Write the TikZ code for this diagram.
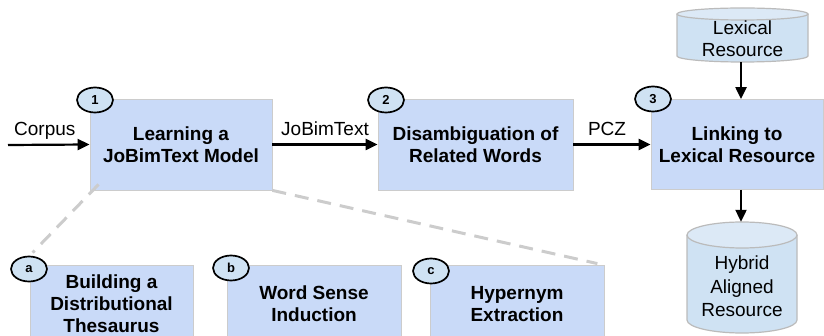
\documentclass[tikz,border=0pt]{standalone}
\usepackage{fontspec}
\setmainfont{Liberation Sans}
\usetikzlibrary{shapes.geometric,arrows.meta,calc}
\definecolor{boxblue}{HTML}{C9DAF8}
\definecolor{cylblue}{HTML}{CFE2F3}
\definecolor{cyltop}{HTML}{DCE9F6}
\definecolor{boxgray}{HTML}{CCCCCC}
\definecolor{cylgray}{HTML}{BBBBBB}
\definecolor{dashgray}{HTML}{CCCCCC}
\begin{document}
\begin{tikzpicture}[x=1pt,y=-1pt,
  stepbox/.style={draw=boxgray, line width=0.8pt, fill=boxblue, rectangle, inner sep=0pt, align=center, font=\fontsize{19}{22}\selectfont\bfseries},
  numcirc/.style={ellipse, draw=black, line width=1.7pt, fill=cylblue, minimum width=36pt, minimum height=25pt, inner sep=0pt, font=\fontsize{13}{13}\selectfont\bfseries},
  flow/.style={line width=2.2pt, -{Triangle[length=12pt,width=11pt]}},
  flowlabel/.style={anchor=base, yshift=9pt, inner sep=0pt, font=\fontsize{19}{22}\selectfont},
  subline/.style={draw=dashgray, line width=3pt, dash pattern=on 14pt off 9pt},
  cyltext/.style={inner sep=0pt, align=center},
  cylbody/.style={fill=cylblue, draw=cylgray, line width=1.2pt},
  cyllid/.style={fill=cyltop, draw=cylgray, line width=1.2pt}
]
\useasboundingbox (0,0) rectangle (824,336);
\clip (0,0) rectangle (824,336);

% cylinders
\fill[cylblue] (677,14) -- (677,56) arc[start angle=180, end angle=360, x radius=65.5pt, y radius=6pt] -- (808,14) -- cycle;
\draw[cylbody, fill=none] (677,14) -- (677,56) arc[start angle=180, end angle=360, x radius=65.5pt, y radius=6pt] -- (808,14);
\draw[cyllid] (742.5,14) ellipse [x radius=65.5pt, y radius=6pt];
\node[cyltext, minimum width=131pt, minimum height=46pt, font=\fontsize{19}{22}\selectfont] (lex) at (742.5,39) {Lexical\\Resource};

\fill[cylblue] (687,235) -- (687,320) arc[start angle=180, end angle=360, x radius=55pt, y radius=13pt] -- (797,235) -- cycle;
\draw[cylbody, fill=none] (687,235) -- (687,320) arc[start angle=180, end angle=360, x radius=55pt, y radius=13pt] -- (797,235);
\draw[cyllid] (742,235) ellipse [x radius=55pt, y radius=13pt];
\node[cyltext, minimum width=110pt, minimum height=129pt, font=\fontsize{19}{23.5}\selectfont] (hyb) at (742,286.5) {Hybrid\\Aligned\\Resource};

% main boxes
\node[stepbox, minimum width=182pt, minimum height=91pt] (b1) at (181,144.5) {Learning a\\JoBimText Model};
\node[stepbox, minimum width=195pt, minimum height=91pt] (b2) at (475.5,144.5) {Disambiguation of\\Related Words};
\node[stepbox, minimum width=172pt, minimum height=90pt] (b3) at (737,144.5) {Linking to\\Lexical Resource};

% sub boxes
\node[stepbox, minimum width=163pt, minimum height=78pt] (ba) at (111.5,304) {Building a\\Distributional\\Thesaurus};
\node[stepbox, minimum width=174pt, minimum height=78pt] (bb) at (314,304) {Word Sense\\Induction};
\node[stepbox, minimum width=174pt, minimum height=78pt] (bc) at (517,304) {Hypernym\\Extraction};

% connectors
\coordinate (cin) at (8,145);
\draw[flow] (cin) -- (b1.west) node[flowlabel, midway, xshift=-4pt] {Corpus};
\draw[flow] (b1.east) -- (b2.west) node[flowlabel, midway] {JoBimText};
\draw[flow] (b2.east) -- (b3.west) node[flowlabel, midway, xshift=-5pt] {PCZ};
\draw[flow] (lex.south -| 741,0) -- (b3.north -| 741,0);
\draw[flow] (b3.south -| 741,0) -- (hyb.north -| 741,0);

% dashed links to sub-tasks
\coordinate (d1s) at ($(b1.south west)+(9,-6)$);
\coordinate (d1e) at ($(ba.north west)+(3,-12)$);
\coordinate (d2e) at ($(bc.north east)+(-7,-1)$);
\draw[subline] (d1s) -- (d1e);
\draw[subline] (b1.south east) -- (d2e);

% number circles
\node[numcirc] (c1) at (95,100) {1};
\node[numcirc] (c2) at (386,100) {2};
\node[numcirc] (c3) at (653,99) {3};
\node[numcirc] (ca) at (29,269) {a};
\node[numcirc] (cb) at (231,268) {b};
\node[numcirc] (cc) at (431,271) {c};
\end{tikzpicture}
\end{document}
